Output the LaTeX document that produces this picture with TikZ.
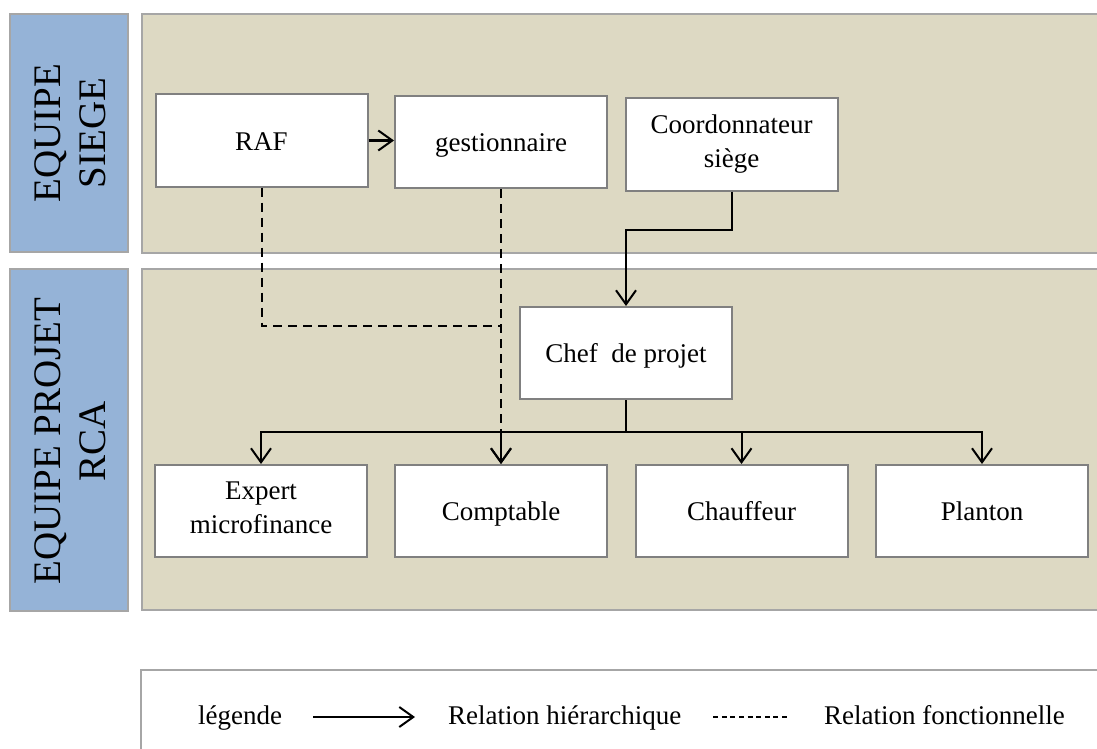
\documentclass[tikz,border=0pt]{standalone}
\usepackage{fontspec}
\setmainfont{Liberation Serif}
\usetikzlibrary{arrows.meta}
\definecolor{beige}{HTML}{DDD9C3}
\definecolor{teamblue}{HTML}{95B3D7}
\definecolor{framegray}{HTML}{A6A6A6}
\definecolor{boxgray}{HTML}{808080}

\begin{document}
\begin{tikzpicture}[x=0.5pt, y=-0.5pt,
			box/.style    = {draw=boxgray, line width=1pt, fill=white, minimum width=106pt, minimum height=46pt, align=center, font=\fontsize{13.5}{17}\selectfont, execute at begin node={\rule{0pt}{12.5pt}}, execute at end node={\rule[-3pt]{0pt}{3pt}}},
			panel/.style  = {draw=framegray, line width=0.9pt, fill=beige},
			team/.style   = {rotate=90, align=center, font=\fontsize{19.5}{22.5}\selectfont},
			tip/.style    = {-{Straight Barb[length=7pt,width=10pt]}},
			hier/.style   = {black, line width=1pt, tip},
			func/.style   = {black, line width=1pt, dash pattern=on 4.5pt off 3pt},
			legtxt/.style = {anchor=west, text height=10pt, text depth=3pt, font=\fontsize{13.5}{17}\selectfont},]
			
			\useasboundingbox (0,0) rectangle (1097,749);
			\clip (0,0) rectangle (1097,749);
			
			%% TEAM PANELS
			\draw[panel, fill=teamblue] (10,14) rectangle (128,252);
			\draw[panel] (142,14) rectangle (1110,253);
			\draw[panel, fill=teamblue] (10,269) rectangle (128,611);
			\draw[panel] (142,269) rectangle (1110,610);
			\node[team] (siege) at (70,133) {EQUIPE\\SIEGE};
			\node[team] (rca) at (70,441) {EQUIPE PROJET\\RCA};
			
			% SIEGE
			\node[box] (raf) at (261.5,140.5) {RAF};
			\node[box] (gest) at (501,142) {gestionnaire};
			\node[box] (coord) at (731.5,144.5) {Coordonnateur\\siège};
			% PROJET RCA
			\node[box] (chef) at (626,353) {Chef\ \ de projet};
			\node[box] (expert) at (261,511) {Expert\\microfinance};
			\node[box] (compt) at (501,511) {Comptable};
			\node[box] (chauf) at (741.5,511) {Chauffeur};
			\node[box] (plant) at (982,511) {Planton};
			
			%% RELATIONS
			\draw[hier] (raf.east) -- (raf.east -| gest.west);
			\coordinate (fjoin) at (501,326);
			\draw[func] (raf.south) |- (fjoin);
			\draw[func, tip] (gest.south) -- (compt.north);
			\draw[hier] (coord.south) -- ++(0,38) -| (chef.north);
			\coordinate (bus) at (626,432);
			\draw[black, line width=1pt] (chef.south) -- (bus);
			\foreach \n in {expert,compt,chauf,plant}
				\draw[hier] (bus) -| (\n.north);
			
			%% LEGENDE
			\draw[draw=framegray, line width=0.9pt, fill=white] (141,670) rectangle (1110,780);
			\node[legtxt] (leg) at (191,717) {légende};
			\node[legtxt] (hiertxt) at (441,717) {Relation hiérarchique};
			\node[legtxt] (functxt) at (817,717) {Relation fonctionnelle};
			\draw[hier, shorten <=12pt, shorten >=13pt] (leg.east) -- (hiertxt.west);
			\draw[black, line width=0.8pt, dash pattern=on 2.5pt off 1.8pt, shorten <=12.5pt, shorten >=14pt] (hiertxt.east) -- (functxt.west);
\end{tikzpicture}
\end{document}
